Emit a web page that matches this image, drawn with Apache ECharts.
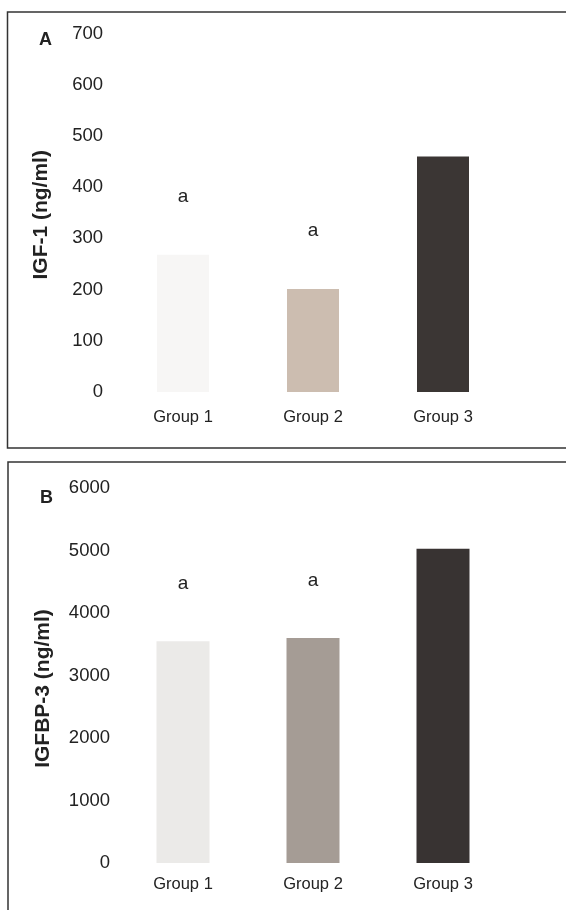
<!DOCTYPE html>
<html>
<head>
<meta charset="utf-8">
<script src="https://cdn.jsdelivr.net/npm/echarts@6/dist/echarts.min.js"></script>
<style>html,body{margin:0;padding:0;background:#fff}#c{width:566px;height:910px}</style>
</head>
<body>
<div id="c"></div>
<script>
const categories = ['Group 1', 'Group 2', 'Group 3'];
const igf1Values = [268, 201, 460];
const igfbp3Values = [3550, 3600, 5030];
const igf1Letters = ['a', 'a', ''];
const igfbp3Letters = ['a', 'a', ''];
const igf1Ticks = [0, 100, 200, 300, 400, 500, 600, 700];
const igfbp3Ticks = [0, 1000, 2000, 3000, 4000, 5000, 6000];

const colorsA = ['#f7f6f5', '#ccbdb0', '#3b3634'];
const colorsB = ['#ebeae8', '#a59c95', '#383332'];
const FONT = 'Liberation Sans, Arial, sans-serif';

function barData(values, letters, colors) {
  return values.map((v, i) => ({
    value: v,
    itemStyle: { color: colors[i] },
    label: { show: letters[i] !== '', formatter: letters[i] }
  }));
}

const chart = echarts.init(document.getElementById('c'), null, { renderer: 'canvas' });
chart.setOption({
  animation: false,
  backgroundColor: '#ffffff',
  grid: [
    { left: 118, width: 390, top: 33.6, bottom: 518 },
    { left: 118, width: 390, top: 488, bottom: 47 }
  ],
  xAxis: [
    { type: 'category', gridIndex: 0, data: categories,
      axisLine: { show: false }, axisTick: { show: false },
      axisLabel: { margin: 17, fontSize: 16.5, color: '#222', fontFamily: FONT } },
    { type: 'category', gridIndex: 1, data: categories,
      axisLine: { show: false }, axisTick: { show: false },
      axisLabel: { margin: 13, fontSize: 16.5, color: '#222', fontFamily: FONT } }
  ],
  yAxis: [
    { type: 'value', gridIndex: 0, min: igf1Ticks[0], max: igf1Ticks[igf1Ticks.length - 1], interval: 100,
      splitLine: { show: false }, axisLine: { show: false }, axisTick: { show: false },
      axisLabel: { margin: 15, fontSize: 18.5, color: '#222', fontFamily: FONT, padding: [12, 0, 0, 0],
        formatter: v => String(v) },
      name: 'IGF-1 (ng/ml)', nameLocation: 'middle', nameGap: 66, nameRotate: 90,
      nameTextStyle: { fontSize: 21, fontWeight: 'bold', color: '#222', fontFamily: FONT, padding: [0, 4, 0, 0] } },
    { type: 'value', gridIndex: 1, min: igfbp3Ticks[0], max: igfbp3Ticks[igfbp3Ticks.length - 1], interval: 1000,
      splitLine: { show: false }, axisLine: { show: false }, axisTick: { show: false },
      axisLabel: { margin: 8, fontSize: 18.5, color: '#222', fontFamily: FONT, padding: [14, 0, 0, 0],
        formatter: v => String(v) },
      name: 'IGFBP-3 (ng/ml)', nameLocation: 'middle', nameGap: 64, nameRotate: 90,
      nameTextStyle: { fontSize: 21, fontWeight: 'bold', color: '#222', fontFamily: FONT, padding: [0, 26, 0, 0] } }
  ],
  series: [
    { type: 'bar', xAxisIndex: 0, yAxisIndex: 0, barWidth: 52,
      data: barData(igf1Values, igf1Letters, colorsA),
      label: { position: 'top', distance: 49, fontSize: 19, color: '#222', fontFamily: FONT } },
    { type: 'bar', xAxisIndex: 1, yAxisIndex: 1, barWidth: 53,
      data: barData(igfbp3Values, igfbp3Letters, colorsB),
      label: { position: 'top', distance: 48, fontSize: 19, color: '#222', fontFamily: FONT } }
  ],
  graphic: [
    { type: 'rect', shape: { x: 7.5, y: 12, width: 570, height: 436 },
      style: { fill: 'none', stroke: '#333', lineWidth: 1.5 }, silent: true },
    { type: 'rect', shape: { x: 8, y: 462, width: 570, height: 460 },
      style: { fill: 'none', stroke: '#333', lineWidth: 1.5 }, silent: true },
    { type: 'text', left: 39, top: 31, style: { text: 'A', fontSize: 18, fontWeight: 'bold', fill: '#222', fontFamily: FONT } },
    { type: 'text', left: 40, top: 489, style: { text: 'B', fontSize: 18, fontWeight: 'bold', fill: '#222', fontFamily: FONT } }
  ]
});
</script>
</body>
</html>
